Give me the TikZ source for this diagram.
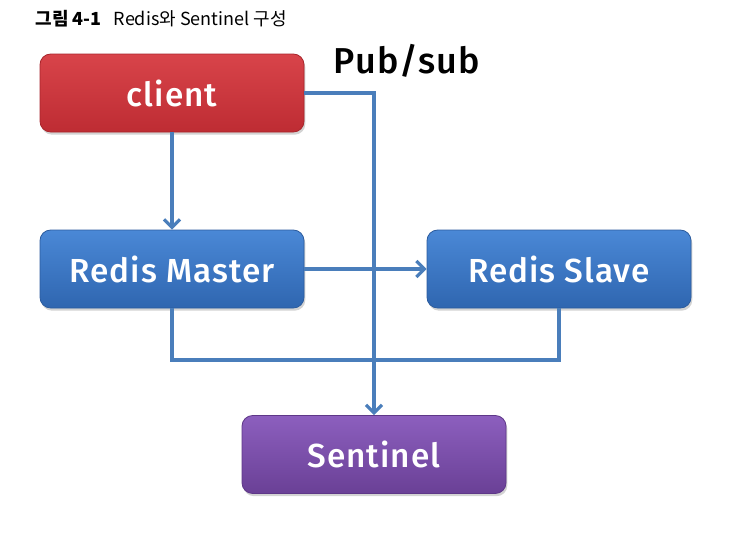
\documentclass[tikz,border=0pt]{standalone}
\usepackage{fontspec}
\setmainfont{Fira Sans}
\newfontfamily\krfont{Noto Sans CJK KR}
\newfontfamily\handfont[LetterSpace=3]{Fira Sans Medium}
\usetikzlibrary{shadows,arrows.meta}
\definecolor{redtop}{HTML}{D8444A}
\definecolor{redbot}{HTML}{BE2C33}
\definecolor{redline}{HTML}{A8262C}
\definecolor{bluetop}{HTML}{4A88D6}
\definecolor{bluebot}{HTML}{2F66B0}
\definecolor{blueline}{HTML}{2C5C9E}
\definecolor{purtop}{HTML}{8C5FBE}
\definecolor{purbot}{HTML}{6A4096}
\definecolor{purline}{HTML}{5E3788}
\definecolor{conn}{HTML}{4A7EBB}
\tikzset{
  box/.style={rounded corners=8pt, minimum width=198pt, minimum height=58.5pt,
    text=white, font=\handfont\fontsize{25}{28}\selectfont, line width=0.6pt,
    drop shadow={shadow xshift=1pt, shadow yshift=-2pt, opacity=0.35}},
  redbox/.style={box, draw=redline, top color=redtop, bottom color=redbot},
  bluebox/.style={box, draw=blueline, top color=bluetop, bottom color=bluebot},
  purbox/.style={box, draw=purline, top color=purtop, bottom color=purbot},
  link/.style={draw=conn, line width=2.4pt},
  arr/.style={link, -{Straight Barb[length=6pt, width=12pt, line width=2.4pt]}}
}
\begin{document}
\begin{tikzpicture}[x=0.75pt, y=-0.75pt]
\useasboundingbox (0,0) rectangle (734,537);
\node[anchor=west, font=\krfont\fontsize{13.5}{15}\selectfont] (title) at (31,19)
  {{\bfseries 그림 4-1}\hspace{9pt}Redis와 Sentinel 구성};
\node[font=\handfont\fontsize{27}{30}\selectfont] (pubsub) at (407,61) {Pub/sub};
\node[redbox] (client) at (172,93) {client};
\node[bluebox] (master) at (172,269) {Redis Master};
\node[bluebox] (slave) at (559,269) {Redis Slave};
\node[purbox] (sentinel) at (374,454.5) {Sentinel};
\coordinate (cr) at (374,93);
\coordinate (mb) at (master.south |- 0,360);
\coordinate (sb) at (slave.south |- 0,360);
\draw[arr] (client.south) -- (master.north);
\draw[arr] (client.east |- cr) -- (cr) -- (sentinel.north);
\draw[arr] (master.east) -- (slave.west);
\draw[link] (master.south) -- (mb) -- (sb) -- (slave.south);
\end{tikzpicture}
\end{document}
